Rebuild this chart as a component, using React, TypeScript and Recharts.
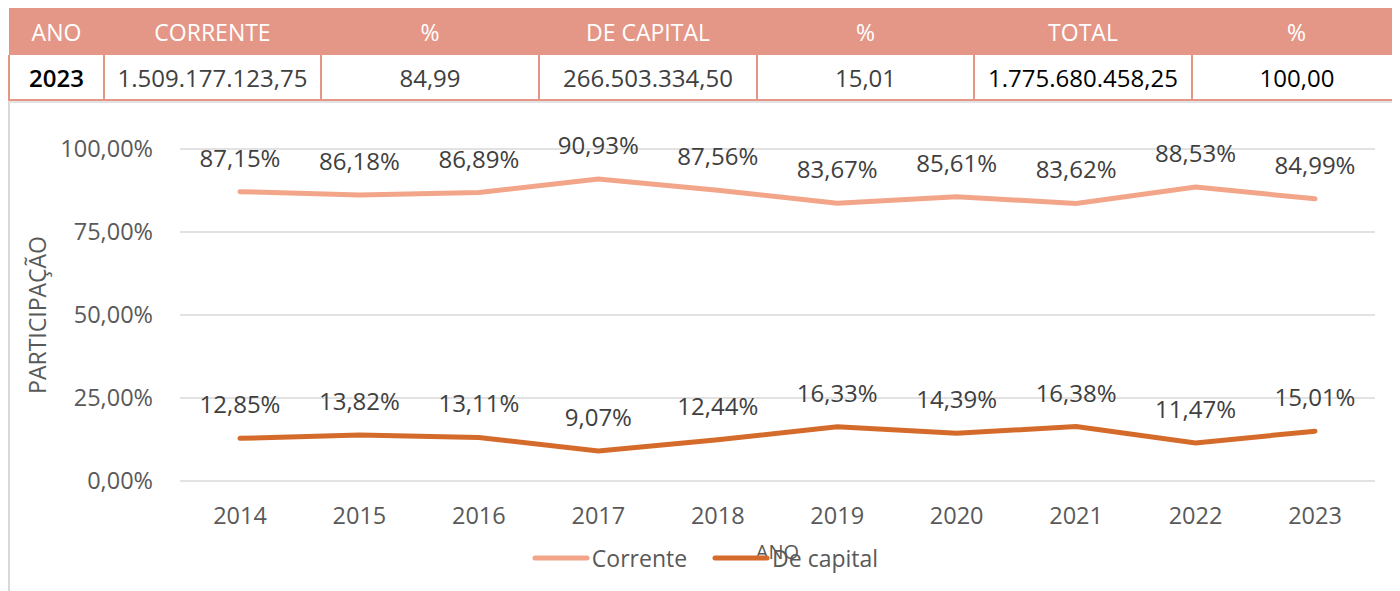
import {CartesianGrid, Label, LabelList, Legend, Line, LineChart, XAxis, YAxis} from "recharts";

const years = ["2014", "2015", "2016", "2017", "2018", "2019", "2020", "2021", "2022", "2023"];
const corrente = [87.15, 86.18, 86.89, 90.93, 87.56, 83.67, 85.61, 83.62, 88.53, 84.99];
const deCapital = [12.85, 13.82, 13.11, 9.07, 12.44, 16.33, 14.39, 16.38, 11.47, 15.01];
const yTicks = [0, 25, 50, 75, 100];

const headerCols = ["ANO", "CORRENTE", "%", "DE CAPITAL", "%", "TOTAL", "%"];
const rowCols = ["2023", "1.509.177.123,75", "84,99", "266.503.334,50", "15,01", "1.775.680.458,25", "100,00"];
const colWidths = [95, 217, 218, 218, 217, 218, 209];

const chartData = years.map((ano, i) => ({
    ano,
    corrente: corrente[i],
    capital: deCapital[i],
}));

const series = [
    {key: "corrente", name: "Corrente", color: "#F2A589"},
    {key: "capital", name: "De capital", color: "#D56B2B"},
];

const pct = (v: any) => Number(v).toFixed(2).replace(".", ",") + "%";

const FONT = "'Open Sans', sans-serif";

function LegendBox() {
    return (
        <div style={{display: "flex", justifyContent: "center", alignItems: "center", height: 30, fontFamily: FONT}}>
            {series.map((s, i) => (
                <div key={s.key} style={{display: "flex", alignItems: "center", marginLeft: i ? 25 : 0}}>
                    <svg width={58} height={8}>
                        <line x1={3} y1={4} x2={55} y2={4} stroke={s.color} strokeWidth={5} strokeLinecap="round"/>
                    </svg>
                    <span style={{fontSize: 23, color: "#595959", marginLeft: 2}}>{s.name}</span>
                </div>
            ))}
        </div>
    );
}

export default function App() {
    return (
        <div style={{width: 1392, fontFamily: FONT}}>
            <table style={{borderCollapse: "collapse", tableLayout: "fixed", width: 1392}}>
                <colgroup>
                    {colWidths.map((w, i) => <col key={i} style={{width: w}}/>)}
                </colgroup>
                <tbody>
                <tr style={{height: 47, background: "#E59787"}}>
                    {headerCols.map((h, i) => (
                        <td key={i} style={{color: "#fff", fontSize: 23, textAlign: "center", padding: 0}}>{h}</td>
                    ))}
                </tr>
                <tr style={{height: 45}}>
                    {rowCols.map((v, i) => (
                        <td
                            key={i}
                            style={{
                                border: "2px solid #E59787",
                                borderTop: "none",
                                borderRight: i === rowCols.length - 1 ? "none" : "2px solid #E59787",
                                fontSize: 24,
                                textAlign: "center",
                                padding: 0,
                                color: i === 0 || i >= 5 ? "#000" : "#404040",
                                fontWeight: i === 0 ? 600 : i >= 5 ? 500 : 400,
                            }}
                        >
                            {v}
                        </td>
                    ))}
                </tr>
                </tbody>
            </table>
            <div style={{borderLeft: "2px solid #D9D9D9", borderTop: "2px solid #E3E3E3", width: 1390, height: 488}}>
                <LineChart
                    width={1390}
                    height={488}
                    data={chartData}
                    margin={{top: 46, right: 25, bottom: 0, left: 0}}
                >
                    <CartesianGrid vertical={false} stroke="#D9D9D9" strokeWidth={1.5}/>
                    <XAxis
                        dataKey="ano"
                        axisLine={false}
                        tickLine={false}
                        tickSize={0}
                        tickMargin={26}
                        height={110}
                        padding={{left: 60, right: 60}}
                        tick={{fill: "#595959", fontSize: 23.5}}
                    >
                        <Label value="ANO" position="insideBottom" offset={32} fill="#595959" fontSize={20}/>
                    </XAxis>
                    <YAxis
                        domain={[0, 100]}
                        ticks={yTicks}
                        width={170}
                        axisLine={false}
                        tickLine={false}
                        tickSize={0}
                        tickMargin={27}
                        tickFormatter={pct}
                        tick={{fill: "#595959", fontSize: 23.5}}
                    >
                        <Label
                            content={(props: any) => {
                                const vb = props.viewBox;
                                const cx = vb.x + 27;
                                const cy = vb.y + vb.height / 2;
                                return (
                                    <text
                                        x={cx}
                                        y={cy}
                                        textAnchor="middle"
                                        dominantBaseline="central"
                                        fill="#595959"
                                        fontSize={23}
                                        transform={`rotate(-90, ${cx}, ${cy})`}
                                    >
                                        PARTICIPAÇÃO
                                    </text>
                                );
                            }}
                        />
                    </YAxis>
                    <Legend
                        layout="horizontal"
                        verticalAlign="middle"
                        align="center"
                        wrapperStyle={{top: 440, left: 0, width: 1390}}
                        content={() => <LegendBox/>}
                    />
                    {series.map(s => (
                        <Line
                            key={s.key}
                            dataKey={s.key}
                            name={s.name}
                            stroke={s.color}
                            strokeWidth={5}
                            strokeLinecap="round"
                            dot={false}
                            activeDot={false}
                            isAnimationActive={false}
                        >
                            <LabelList dataKey={s.key} position="top" offset={25} fill="#404040" fontSize={24} formatter={pct}/>
                        </Line>
                    ))}
                </LineChart>
            </div>
        </div>
    );
}
